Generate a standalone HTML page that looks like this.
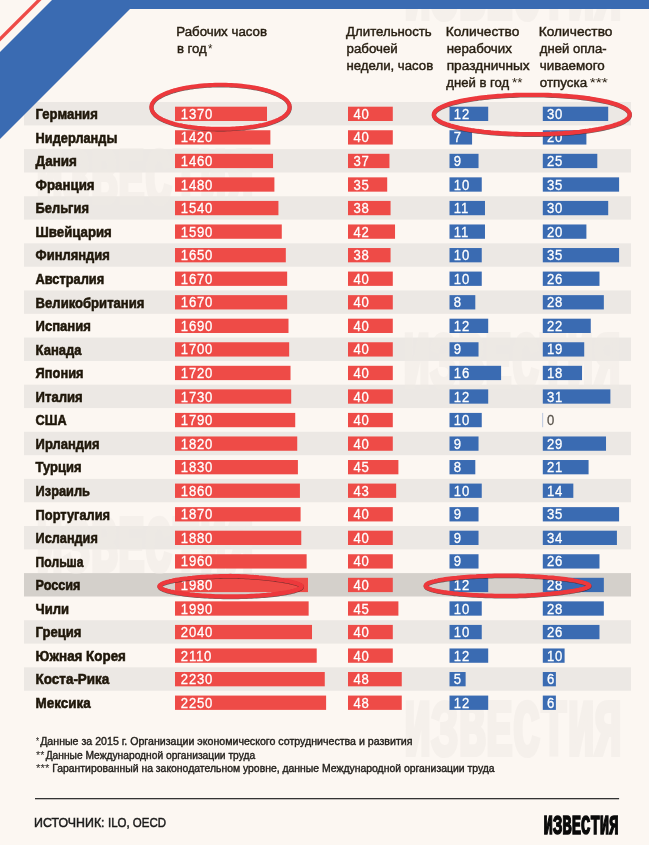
<!DOCTYPE html>
<html lang="ru">
<head>
<meta charset="utf-8">
<title>Рабочие часы в год</title>
<style>
html,body{margin:0;padding:0;background:#fcf7f2;}
body{width:649px;height:845px;overflow:hidden;}
svg{display:block;font-family:"Liberation Sans",sans-serif;}
</style>
</head>
<body>
<svg width="649" height="845" viewBox="0 0 649 845">
<rect width="649" height="845" fill="#fcf7f2"/>
<g id="stripes">
<rect x="24" y="102.00" width="607" height="23.4" fill="#ece8e4"/>
<rect x="24" y="149.11" width="607" height="23.4" fill="#ece8e4"/>
<rect x="24" y="196.22" width="607" height="23.4" fill="#ece8e4"/>
<rect x="24" y="243.33" width="607" height="23.4" fill="#ece8e4"/>
<rect x="24" y="290.44" width="607" height="23.4" fill="#ece8e4"/>
<rect x="24" y="337.55" width="607" height="23.4" fill="#ece8e4"/>
<rect x="24" y="384.66" width="607" height="23.4" fill="#ece8e4"/>
<rect x="24" y="431.77" width="607" height="23.4" fill="#ece8e4"/>
<rect x="24" y="478.88" width="607" height="23.4" fill="#ece8e4"/>
<rect x="24" y="525.99" width="607" height="23.4" fill="#ece8e4"/>
<rect x="24" y="573.10" width="607" height="23.4" fill="#d4d0cb"/>
<rect x="24" y="620.21" width="607" height="23.4" fill="#ece8e4"/>
<rect x="24" y="667.32" width="607" height="23.4" fill="#ece8e4"/>
</g>
<g id="watermarks" opacity="0.5">
<text x="404" y="18.6" font-family="Liberation Mono, monospace" font-size="80" font-weight="bold" fill="#efeae5" stroke="#efeae5" stroke-width="4.2" textLength="218" lengthAdjust="spacingAndGlyphs">ИЗВЕСТИЯ</text>
<text x="36" y="202.6" font-family="Liberation Mono, monospace" font-size="80" font-weight="bold" fill="#efeae5" stroke="#efeae5" stroke-width="4.2" textLength="218" lengthAdjust="spacingAndGlyphs">ИЗВЕСТИЯ</text>
<text x="403" y="386.6" font-family="Liberation Mono, monospace" font-size="80" font-weight="bold" fill="#efeae5" stroke="#efeae5" stroke-width="4.2" textLength="218" lengthAdjust="spacingAndGlyphs">ИЗВЕСТИЯ</text>
<text x="36" y="570.6" font-family="Liberation Mono, monospace" font-size="80" font-weight="bold" fill="#efeae5" stroke="#efeae5" stroke-width="4.2" textLength="218" lengthAdjust="spacingAndGlyphs">ИЗВЕСТИЯ</text>
<text x="404" y="754.6" font-family="Liberation Mono, monospace" font-size="80" font-weight="bold" fill="#efeae5" stroke="#efeae5" stroke-width="4.2" textLength="218" lengthAdjust="spacingAndGlyphs">ИЗВЕСТИЯ</text>
</g>
<polygon points="52,0 649,0 649,9 130,9 0,139 0,52" fill="#3a6bb2"/>
<polygon points="36.8,0 41.5,0 0,41.5 0,36.8" fill="#ee4b47"/>
<g id="bars">
<rect x="175" y="106.70" width="92.01" height="14.3" fill="#ee4b47"/>
<rect x="348.0" y="106.70" width="44.80" height="14.3" fill="#ee4b47"/>
<rect x="449.5" y="106.70" width="38.70" height="14.3" fill="#3a6bb2"/>
<rect x="542.8" y="106.70" width="65.40" height="14.3" fill="#3a6bb2"/>
<rect x="175" y="130.25" width="95.37" height="14.3" fill="#ee4b47"/>
<rect x="348.0" y="130.25" width="44.80" height="14.3" fill="#ee4b47"/>
<rect x="449.5" y="130.25" width="22.57" height="14.3" fill="#3a6bb2"/>
<rect x="542.8" y="130.25" width="43.60" height="14.3" fill="#3a6bb2"/>
<rect x="175" y="153.81" width="98.05" height="14.3" fill="#ee4b47"/>
<rect x="348.0" y="153.81" width="41.44" height="14.3" fill="#ee4b47"/>
<rect x="449.5" y="153.81" width="29.03" height="14.3" fill="#3a6bb2"/>
<rect x="542.8" y="153.81" width="54.50" height="14.3" fill="#3a6bb2"/>
<rect x="175" y="177.36" width="99.40" height="14.3" fill="#ee4b47"/>
<rect x="348.0" y="177.36" width="39.20" height="14.3" fill="#ee4b47"/>
<rect x="449.5" y="177.36" width="32.25" height="14.3" fill="#3a6bb2"/>
<rect x="542.8" y="177.36" width="76.30" height="14.3" fill="#3a6bb2"/>
<rect x="175" y="200.92" width="103.43" height="14.3" fill="#ee4b47"/>
<rect x="348.0" y="200.92" width="42.56" height="14.3" fill="#ee4b47"/>
<rect x="449.5" y="200.92" width="35.48" height="14.3" fill="#3a6bb2"/>
<rect x="542.8" y="200.92" width="65.40" height="14.3" fill="#3a6bb2"/>
<rect x="175" y="224.47" width="106.78" height="14.3" fill="#ee4b47"/>
<rect x="348.0" y="224.47" width="47.04" height="14.3" fill="#ee4b47"/>
<rect x="449.5" y="224.47" width="35.48" height="14.3" fill="#3a6bb2"/>
<rect x="542.8" y="224.47" width="43.60" height="14.3" fill="#3a6bb2"/>
<rect x="175" y="248.03" width="110.81" height="14.3" fill="#ee4b47"/>
<rect x="348.0" y="248.03" width="42.56" height="14.3" fill="#ee4b47"/>
<rect x="449.5" y="248.03" width="32.25" height="14.3" fill="#3a6bb2"/>
<rect x="542.8" y="248.03" width="76.30" height="14.3" fill="#3a6bb2"/>
<rect x="175" y="271.58" width="112.16" height="14.3" fill="#ee4b47"/>
<rect x="348.0" y="271.58" width="44.80" height="14.3" fill="#ee4b47"/>
<rect x="449.5" y="271.58" width="32.25" height="14.3" fill="#3a6bb2"/>
<rect x="542.8" y="271.58" width="56.68" height="14.3" fill="#3a6bb2"/>
<rect x="175" y="295.14" width="112.16" height="14.3" fill="#ee4b47"/>
<rect x="348.0" y="295.14" width="44.80" height="14.3" fill="#ee4b47"/>
<rect x="449.5" y="295.14" width="25.80" height="14.3" fill="#3a6bb2"/>
<rect x="542.8" y="295.14" width="61.04" height="14.3" fill="#3a6bb2"/>
<rect x="175" y="318.69" width="113.50" height="14.3" fill="#ee4b47"/>
<rect x="348.0" y="318.69" width="44.80" height="14.3" fill="#ee4b47"/>
<rect x="449.5" y="318.69" width="38.70" height="14.3" fill="#3a6bb2"/>
<rect x="542.8" y="318.69" width="47.96" height="14.3" fill="#3a6bb2"/>
<rect x="175" y="342.25" width="114.17" height="14.3" fill="#ee4b47"/>
<rect x="348.0" y="342.25" width="44.80" height="14.3" fill="#ee4b47"/>
<rect x="449.5" y="342.25" width="29.03" height="14.3" fill="#3a6bb2"/>
<rect x="542.8" y="342.25" width="41.42" height="14.3" fill="#3a6bb2"/>
<rect x="175" y="365.81" width="115.52" height="14.3" fill="#ee4b47"/>
<rect x="348.0" y="365.81" width="44.80" height="14.3" fill="#ee4b47"/>
<rect x="449.5" y="365.81" width="51.60" height="14.3" fill="#3a6bb2"/>
<rect x="542.8" y="365.81" width="39.24" height="14.3" fill="#3a6bb2"/>
<rect x="175" y="389.36" width="116.19" height="14.3" fill="#ee4b47"/>
<rect x="348.0" y="389.36" width="44.80" height="14.3" fill="#ee4b47"/>
<rect x="449.5" y="389.36" width="38.70" height="14.3" fill="#3a6bb2"/>
<rect x="542.8" y="389.36" width="67.58" height="14.3" fill="#3a6bb2"/>
<rect x="175" y="412.91" width="120.22" height="14.3" fill="#ee4b47"/>
<rect x="348.0" y="412.91" width="44.80" height="14.3" fill="#ee4b47"/>
<rect x="449.5" y="412.91" width="32.25" height="14.3" fill="#3a6bb2"/>
<rect x="542.4" y="412.91" width="0.7" height="14.3" fill="#9fb3d6"/>
<rect x="175" y="436.47" width="122.23" height="14.3" fill="#ee4b47"/>
<rect x="348.0" y="436.47" width="44.80" height="14.3" fill="#ee4b47"/>
<rect x="449.5" y="436.47" width="29.03" height="14.3" fill="#3a6bb2"/>
<rect x="542.8" y="436.47" width="63.22" height="14.3" fill="#3a6bb2"/>
<rect x="175" y="460.02" width="122.90" height="14.3" fill="#ee4b47"/>
<rect x="348.0" y="460.02" width="50.40" height="14.3" fill="#ee4b47"/>
<rect x="449.5" y="460.02" width="25.80" height="14.3" fill="#3a6bb2"/>
<rect x="542.8" y="460.02" width="45.78" height="14.3" fill="#3a6bb2"/>
<rect x="175" y="483.58" width="124.92" height="14.3" fill="#ee4b47"/>
<rect x="348.0" y="483.58" width="48.16" height="14.3" fill="#ee4b47"/>
<rect x="449.5" y="483.58" width="32.25" height="14.3" fill="#3a6bb2"/>
<rect x="542.8" y="483.58" width="30.52" height="14.3" fill="#3a6bb2"/>
<rect x="175" y="507.13" width="125.59" height="14.3" fill="#ee4b47"/>
<rect x="348.0" y="507.13" width="44.80" height="14.3" fill="#ee4b47"/>
<rect x="449.5" y="507.13" width="29.03" height="14.3" fill="#3a6bb2"/>
<rect x="542.8" y="507.13" width="76.30" height="14.3" fill="#3a6bb2"/>
<rect x="175" y="530.69" width="126.26" height="14.3" fill="#ee4b47"/>
<rect x="348.0" y="530.69" width="44.80" height="14.3" fill="#ee4b47"/>
<rect x="449.5" y="530.69" width="29.03" height="14.3" fill="#3a6bb2"/>
<rect x="542.8" y="530.69" width="74.12" height="14.3" fill="#3a6bb2"/>
<rect x="175" y="554.25" width="131.63" height="14.3" fill="#ee4b47"/>
<rect x="348.0" y="554.25" width="44.80" height="14.3" fill="#ee4b47"/>
<rect x="449.5" y="554.25" width="29.03" height="14.3" fill="#3a6bb2"/>
<rect x="542.8" y="554.25" width="56.68" height="14.3" fill="#3a6bb2"/>
<rect x="175" y="577.80" width="132.98" height="14.3" fill="#ee4b47"/>
<rect x="348.0" y="577.80" width="44.80" height="14.3" fill="#ee4b47"/>
<rect x="449.5" y="577.80" width="38.70" height="14.3" fill="#3a6bb2"/>
<rect x="542.8" y="577.80" width="61.04" height="14.3" fill="#3a6bb2"/>
<rect x="175" y="601.36" width="133.65" height="14.3" fill="#ee4b47"/>
<rect x="348.0" y="601.36" width="50.40" height="14.3" fill="#ee4b47"/>
<rect x="449.5" y="601.36" width="32.25" height="14.3" fill="#3a6bb2"/>
<rect x="542.8" y="601.36" width="61.04" height="14.3" fill="#3a6bb2"/>
<rect x="175" y="624.91" width="137.01" height="14.3" fill="#ee4b47"/>
<rect x="348.0" y="624.91" width="44.80" height="14.3" fill="#ee4b47"/>
<rect x="449.5" y="624.91" width="32.25" height="14.3" fill="#3a6bb2"/>
<rect x="542.8" y="624.91" width="56.68" height="14.3" fill="#3a6bb2"/>
<rect x="175" y="648.47" width="141.71" height="14.3" fill="#ee4b47"/>
<rect x="348.0" y="648.47" width="44.80" height="14.3" fill="#ee4b47"/>
<rect x="449.5" y="648.47" width="38.70" height="14.3" fill="#3a6bb2"/>
<rect x="542.8" y="648.47" width="21.80" height="14.3" fill="#3a6bb2"/>
<rect x="175" y="672.02" width="149.77" height="14.3" fill="#ee4b47"/>
<rect x="348.0" y="672.02" width="53.76" height="14.3" fill="#ee4b47"/>
<rect x="449.5" y="672.02" width="16.12" height="14.3" fill="#3a6bb2"/>
<rect x="542.8" y="672.02" width="13.08" height="14.3" fill="#3a6bb2"/>
<rect x="175" y="695.58" width="151.11" height="14.3" fill="#ee4b47"/>
<rect x="348.0" y="695.58" width="53.76" height="14.3" fill="#ee4b47"/>
<rect x="449.5" y="695.58" width="38.70" height="14.3" fill="#3a6bb2"/>
<rect x="542.8" y="695.58" width="13.08" height="14.3" fill="#3a6bb2"/>
</g>
<g id="labels">
<text x="176.23" y="35.60" font-size="13.7" fill="#261d10" textLength="90.84" lengthAdjust="spacingAndGlyphs" stroke="#261d10" stroke-width="0.45">Рабочих часов</text>
<text x="176.90" y="52.80" font-size="13.7" fill="#261d10" textLength="29.89" lengthAdjust="spacingAndGlyphs" stroke="#261d10" stroke-width="0.45">в год</text>
<text x="207.90" y="52.80" font-size="13.7" fill="#261d10" textLength="4.44" lengthAdjust="spacingAndGlyphs">*</text>
<text x="346.10" y="35.60" font-size="13.7" fill="#261d10" textLength="85.63" lengthAdjust="spacingAndGlyphs" stroke="#261d10" stroke-width="0.45">Длительность</text>
<text x="346.50" y="52.80" font-size="13.7" fill="#261d10" textLength="51.23" lengthAdjust="spacingAndGlyphs" stroke="#261d10" stroke-width="0.45">рабочей</text>
<text x="346.50" y="70.00" font-size="13.7" fill="#261d10" textLength="86.66" lengthAdjust="spacingAndGlyphs" stroke="#261d10" stroke-width="0.45">недели, часов</text>
<text x="445.70" y="35.60" font-size="13.7" fill="#261d10" textLength="73.61" lengthAdjust="spacingAndGlyphs" stroke="#261d10" stroke-width="0.45">Количество</text>
<text x="446.70" y="52.80" font-size="13.7" fill="#261d10" textLength="65.15" lengthAdjust="spacingAndGlyphs" stroke="#261d10" stroke-width="0.45">нерабочих</text>
<text x="446.70" y="70.00" font-size="13.7" fill="#261d10" textLength="83.04" lengthAdjust="spacingAndGlyphs" stroke="#261d10" stroke-width="0.45">праздничных</text>
<text x="446.30" y="87.30" font-size="13.7" fill="#261d10" textLength="62.99" lengthAdjust="spacingAndGlyphs" stroke="#261d10" stroke-width="0.45">дней в год</text>
<text x="512.10" y="87.30" font-size="13.7" fill="#261d10" textLength="10.44" lengthAdjust="spacingAndGlyphs">**</text>
<text x="538.80" y="35.60" font-size="13.7" fill="#261d10" textLength="73.61" lengthAdjust="spacingAndGlyphs" stroke="#261d10" stroke-width="0.45">Количество</text>
<text x="539.80" y="52.80" font-size="13.7" fill="#261d10" textLength="66.73" lengthAdjust="spacingAndGlyphs" stroke="#261d10" stroke-width="0.45">дней опла-</text>
<text x="539.80" y="70.00" font-size="13.7" fill="#261d10" textLength="64.92" lengthAdjust="spacingAndGlyphs" stroke="#261d10" stroke-width="0.45">чиваемого</text>
<text x="539.80" y="87.30" font-size="13.7" fill="#261d10" textLength="47.32" lengthAdjust="spacingAndGlyphs" stroke="#261d10" stroke-width="0.45">отпуска</text>
<text x="589.70" y="87.30" font-size="13.7" fill="#261d10" textLength="18.14" lengthAdjust="spacingAndGlyphs">***</text>
<text x="36.10" y="745.20" font-size="10.3" fill="#1f1c18" textLength="3.11" lengthAdjust="spacingAndGlyphs">*</text>
<text x="40.20" y="745.20" font-size="10.3" fill="#1f1c18" textLength="372.29" lengthAdjust="spacingAndGlyphs" stroke="#1f1c18" stroke-width="0.38">Данные за 2015 г. Организации экономического сотрудничества и развития</text>
<text x="36.10" y="758.70" font-size="10.3" fill="#1f1c18" textLength="8.31" lengthAdjust="spacingAndGlyphs">**</text>
<text x="45.70" y="758.70" font-size="10.3" fill="#1f1c18" textLength="209.43" lengthAdjust="spacingAndGlyphs" stroke="#1f1c18" stroke-width="0.38">Данные Международной организации труда</text>
<text x="36.10" y="772.20" font-size="10.3" fill="#1f1c18" textLength="13.31" lengthAdjust="spacingAndGlyphs">***</text>
<text x="52.20" y="772.20" font-size="10.3" fill="#1f1c18" textLength="442.42" lengthAdjust="spacingAndGlyphs" stroke="#1f1c18" stroke-width="0.38">Гарантированный на законодательном уровне, данные Международной организации труда</text>
<text x="34.07" y="826.50" font-size="13.3" fill="#1a1a1a" textLength="70.48" lengthAdjust="spacingAndGlyphs" stroke="#1a1a1a" stroke-width="0.5">ИСТОЧНИК:</text>
<text x="107.94" y="826.50" font-size="13.3" fill="#1a1a1a" textLength="58.08" lengthAdjust="spacingAndGlyphs" stroke="#1a1a1a" stroke-width="0.5">ILO, OECD</text>
<text x="35.60" y="119.10" font-size="14.3" fill="#1f170a" font-weight="bold" textLength="62.21" lengthAdjust="spacingAndGlyphs" stroke="#1f170a" stroke-width="0.55">Германия</text>
<text x="35.60" y="142.66" font-size="14.3" fill="#1f170a" font-weight="bold" textLength="81.79" lengthAdjust="spacingAndGlyphs" stroke="#1f170a" stroke-width="0.55">Нидерланды</text>
<text x="35.60" y="166.21" font-size="14.3" fill="#1f170a" font-weight="bold" textLength="41.32" lengthAdjust="spacingAndGlyphs" stroke="#1f170a" stroke-width="0.55">Дания</text>
<text x="35.60" y="189.76" font-size="14.3" fill="#1f170a" font-weight="bold" textLength="59.02" lengthAdjust="spacingAndGlyphs" stroke="#1f170a" stroke-width="0.55">Франция</text>
<text x="35.60" y="213.32" font-size="14.3" fill="#1f170a" font-weight="bold" textLength="53.31" lengthAdjust="spacingAndGlyphs" stroke="#1f170a" stroke-width="0.55">Бельгия</text>
<text x="35.60" y="236.88" font-size="14.3" fill="#1f170a" font-weight="bold" textLength="76.22" lengthAdjust="spacingAndGlyphs" stroke="#1f170a" stroke-width="0.55">Швейцария</text>
<text x="35.60" y="260.43" font-size="14.3" fill="#1f170a" font-weight="bold" textLength="74.31" lengthAdjust="spacingAndGlyphs" stroke="#1f170a" stroke-width="0.55">Финляндия</text>
<text x="35.60" y="283.99" font-size="14.3" fill="#1f170a" font-weight="bold" textLength="68.51" lengthAdjust="spacingAndGlyphs" stroke="#1f170a" stroke-width="0.55">Австралия</text>
<text x="35.60" y="307.54" font-size="14.3" fill="#1f170a" font-weight="bold" textLength="108.81" lengthAdjust="spacingAndGlyphs" stroke="#1f170a" stroke-width="0.55">Великобритания</text>
<text x="35.60" y="331.10" font-size="14.3" fill="#1f170a" font-weight="bold" textLength="55.31" lengthAdjust="spacingAndGlyphs" stroke="#1f170a" stroke-width="0.55">Испания</text>
<text x="35.60" y="354.65" font-size="14.3" fill="#1f170a" font-weight="bold" textLength="45.85" lengthAdjust="spacingAndGlyphs" stroke="#1f170a" stroke-width="0.55">Канада</text>
<text x="35.60" y="378.21" font-size="14.3" fill="#1f170a" font-weight="bold" textLength="47.91" lengthAdjust="spacingAndGlyphs" stroke="#1f170a" stroke-width="0.55">Япония</text>
<text x="35.60" y="401.76" font-size="14.3" fill="#1f170a" font-weight="bold" textLength="47.11" lengthAdjust="spacingAndGlyphs" stroke="#1f170a" stroke-width="0.55">Италия</text>
<text x="35.60" y="425.31" font-size="14.3" fill="#1f170a" font-weight="bold" textLength="31.09" lengthAdjust="spacingAndGlyphs" stroke="#1f170a" stroke-width="0.55">США</text>
<text x="35.60" y="448.87" font-size="14.3" fill="#1f170a" font-weight="bold" textLength="63.91" lengthAdjust="spacingAndGlyphs" stroke="#1f170a" stroke-width="0.55">Ирландия</text>
<text x="35.60" y="472.43" font-size="14.3" fill="#1f170a" font-weight="bold" textLength="45.91" lengthAdjust="spacingAndGlyphs" stroke="#1f170a" stroke-width="0.55">Турция</text>
<text x="35.60" y="495.98" font-size="14.3" fill="#1f170a" font-weight="bold" textLength="54.31" lengthAdjust="spacingAndGlyphs" stroke="#1f170a" stroke-width="0.55">Израиль</text>
<text x="35.60" y="519.53" font-size="14.3" fill="#1f170a" font-weight="bold" textLength="74.51" lengthAdjust="spacingAndGlyphs" stroke="#1f170a" stroke-width="0.55">Португалия</text>
<text x="35.60" y="543.09" font-size="14.3" fill="#1f170a" font-weight="bold" textLength="62.20" lengthAdjust="spacingAndGlyphs" stroke="#1f170a" stroke-width="0.55">Исландия</text>
<text x="35.60" y="566.65" font-size="14.3" fill="#1f170a" font-weight="bold" textLength="47.91" lengthAdjust="spacingAndGlyphs" stroke="#1f170a" stroke-width="0.55">Польша</text>
<text x="35.60" y="590.20" font-size="14.3" fill="#1f170a" font-weight="bold" textLength="44.90" lengthAdjust="spacingAndGlyphs" stroke="#1f170a" stroke-width="0.55">Россия</text>
<text x="35.60" y="613.75" font-size="14.3" fill="#1f170a" font-weight="bold" textLength="33.52" lengthAdjust="spacingAndGlyphs" stroke="#1f170a" stroke-width="0.55">Чили</text>
<text x="35.60" y="637.31" font-size="14.3" fill="#1f170a" font-weight="bold" textLength="45.91" lengthAdjust="spacingAndGlyphs" stroke="#1f170a" stroke-width="0.55">Греция</text>
<text x="35.60" y="660.87" font-size="14.3" fill="#1f170a" font-weight="bold" textLength="90.32" lengthAdjust="spacingAndGlyphs" stroke="#1f170a" stroke-width="0.55">Южная Корея</text>
<text x="35.60" y="684.42" font-size="14.3" fill="#1f170a" font-weight="bold" textLength="73.71" lengthAdjust="spacingAndGlyphs" stroke="#1f170a" stroke-width="0.55">Коста-Рика</text>
<text x="35.60" y="707.98" font-size="14.3" fill="#1f170a" font-weight="bold" textLength="55.21" lengthAdjust="spacingAndGlyphs" stroke="#1f170a" stroke-width="0.55">Мексика</text>
<text transform="translate(180.8,118.90) scale(0.875,1)" letter-spacing="0.91" font-size="15.0" fill="#fff" stroke="#fff" stroke-width="0.3">1370</text>
<text transform="translate(353.4,118.90) scale(0.875,1)" letter-spacing="0.91" font-size="15.0" fill="#fff" stroke="#fff" stroke-width="0.3">40</text>
<text transform="translate(453.8,118.90) scale(0.875,1)" letter-spacing="0.91" font-size="15.0" fill="#fff" stroke="#fff" stroke-width="0.3">12</text>
<text transform="translate(546.9,118.90) scale(0.875,1)" letter-spacing="0.91" font-size="15.0" fill="#fff" stroke="#fff" stroke-width="0.3">30</text>
<text transform="translate(180.8,142.46) scale(0.875,1)" letter-spacing="0.91" font-size="15.0" fill="#fff" stroke="#fff" stroke-width="0.3">1420</text>
<text transform="translate(353.4,142.46) scale(0.875,1)" letter-spacing="0.91" font-size="15.0" fill="#fff" stroke="#fff" stroke-width="0.3">40</text>
<text transform="translate(453.8,142.46) scale(0.875,1)" letter-spacing="0.91" font-size="15.0" fill="#fff" stroke="#fff" stroke-width="0.3">7</text>
<text transform="translate(546.9,142.46) scale(0.875,1)" letter-spacing="0.91" font-size="15.0" fill="#fff" stroke="#fff" stroke-width="0.3">20</text>
<text transform="translate(180.8,166.01) scale(0.875,1)" letter-spacing="0.91" font-size="15.0" fill="#fff" stroke="#fff" stroke-width="0.3">1460</text>
<text transform="translate(353.4,166.01) scale(0.875,1)" letter-spacing="0.91" font-size="15.0" fill="#fff" stroke="#fff" stroke-width="0.3">37</text>
<text transform="translate(453.8,166.01) scale(0.875,1)" letter-spacing="0.91" font-size="15.0" fill="#fff" stroke="#fff" stroke-width="0.3">9</text>
<text transform="translate(546.9,166.01) scale(0.875,1)" letter-spacing="0.91" font-size="15.0" fill="#fff" stroke="#fff" stroke-width="0.3">25</text>
<text transform="translate(180.8,189.56) scale(0.875,1)" letter-spacing="0.91" font-size="15.0" fill="#fff" stroke="#fff" stroke-width="0.3">1480</text>
<text transform="translate(353.4,189.56) scale(0.875,1)" letter-spacing="0.91" font-size="15.0" fill="#fff" stroke="#fff" stroke-width="0.3">35</text>
<text transform="translate(453.8,189.56) scale(0.875,1)" letter-spacing="0.91" font-size="15.0" fill="#fff" stroke="#fff" stroke-width="0.3">10</text>
<text transform="translate(546.9,189.56) scale(0.875,1)" letter-spacing="0.91" font-size="15.0" fill="#fff" stroke="#fff" stroke-width="0.3">35</text>
<text transform="translate(180.8,213.12) scale(0.875,1)" letter-spacing="0.91" font-size="15.0" fill="#fff" stroke="#fff" stroke-width="0.3">1540</text>
<text transform="translate(353.4,213.12) scale(0.875,1)" letter-spacing="0.91" font-size="15.0" fill="#fff" stroke="#fff" stroke-width="0.3">38</text>
<text transform="translate(453.8,213.12) scale(0.875,1)" letter-spacing="0.91" font-size="15.0" fill="#fff" stroke="#fff" stroke-width="0.3">11</text>
<text transform="translate(546.9,213.12) scale(0.875,1)" letter-spacing="0.91" font-size="15.0" fill="#fff" stroke="#fff" stroke-width="0.3">30</text>
<text transform="translate(180.8,236.68) scale(0.875,1)" letter-spacing="0.91" font-size="15.0" fill="#fff" stroke="#fff" stroke-width="0.3">1590</text>
<text transform="translate(353.4,236.68) scale(0.875,1)" letter-spacing="0.91" font-size="15.0" fill="#fff" stroke="#fff" stroke-width="0.3">42</text>
<text transform="translate(453.8,236.68) scale(0.875,1)" letter-spacing="0.91" font-size="15.0" fill="#fff" stroke="#fff" stroke-width="0.3">11</text>
<text transform="translate(546.9,236.68) scale(0.875,1)" letter-spacing="0.91" font-size="15.0" fill="#fff" stroke="#fff" stroke-width="0.3">20</text>
<text transform="translate(180.8,260.23) scale(0.875,1)" letter-spacing="0.91" font-size="15.0" fill="#fff" stroke="#fff" stroke-width="0.3">1650</text>
<text transform="translate(353.4,260.23) scale(0.875,1)" letter-spacing="0.91" font-size="15.0" fill="#fff" stroke="#fff" stroke-width="0.3">38</text>
<text transform="translate(453.8,260.23) scale(0.875,1)" letter-spacing="0.91" font-size="15.0" fill="#fff" stroke="#fff" stroke-width="0.3">10</text>
<text transform="translate(546.9,260.23) scale(0.875,1)" letter-spacing="0.91" font-size="15.0" fill="#fff" stroke="#fff" stroke-width="0.3">35</text>
<text transform="translate(180.8,283.78) scale(0.875,1)" letter-spacing="0.91" font-size="15.0" fill="#fff" stroke="#fff" stroke-width="0.3">1670</text>
<text transform="translate(353.4,283.78) scale(0.875,1)" letter-spacing="0.91" font-size="15.0" fill="#fff" stroke="#fff" stroke-width="0.3">40</text>
<text transform="translate(453.8,283.78) scale(0.875,1)" letter-spacing="0.91" font-size="15.0" fill="#fff" stroke="#fff" stroke-width="0.3">10</text>
<text transform="translate(546.9,283.78) scale(0.875,1)" letter-spacing="0.91" font-size="15.0" fill="#fff" stroke="#fff" stroke-width="0.3">26</text>
<text transform="translate(180.8,307.34) scale(0.875,1)" letter-spacing="0.91" font-size="15.0" fill="#fff" stroke="#fff" stroke-width="0.3">1670</text>
<text transform="translate(353.4,307.34) scale(0.875,1)" letter-spacing="0.91" font-size="15.0" fill="#fff" stroke="#fff" stroke-width="0.3">40</text>
<text transform="translate(453.8,307.34) scale(0.875,1)" letter-spacing="0.91" font-size="15.0" fill="#fff" stroke="#fff" stroke-width="0.3">8</text>
<text transform="translate(546.9,307.34) scale(0.875,1)" letter-spacing="0.91" font-size="15.0" fill="#fff" stroke="#fff" stroke-width="0.3">28</text>
<text transform="translate(180.8,330.89) scale(0.875,1)" letter-spacing="0.91" font-size="15.0" fill="#fff" stroke="#fff" stroke-width="0.3">1690</text>
<text transform="translate(353.4,330.89) scale(0.875,1)" letter-spacing="0.91" font-size="15.0" fill="#fff" stroke="#fff" stroke-width="0.3">40</text>
<text transform="translate(453.8,330.89) scale(0.875,1)" letter-spacing="0.91" font-size="15.0" fill="#fff" stroke="#fff" stroke-width="0.3">12</text>
<text transform="translate(546.9,330.89) scale(0.875,1)" letter-spacing="0.91" font-size="15.0" fill="#fff" stroke="#fff" stroke-width="0.3">22</text>
<text transform="translate(180.8,354.45) scale(0.875,1)" letter-spacing="0.91" font-size="15.0" fill="#fff" stroke="#fff" stroke-width="0.3">1700</text>
<text transform="translate(353.4,354.45) scale(0.875,1)" letter-spacing="0.91" font-size="15.0" fill="#fff" stroke="#fff" stroke-width="0.3">40</text>
<text transform="translate(453.8,354.45) scale(0.875,1)" letter-spacing="0.91" font-size="15.0" fill="#fff" stroke="#fff" stroke-width="0.3">9</text>
<text transform="translate(546.9,354.45) scale(0.875,1)" letter-spacing="0.91" font-size="15.0" fill="#fff" stroke="#fff" stroke-width="0.3">19</text>
<text transform="translate(180.8,378.00) scale(0.875,1)" letter-spacing="0.91" font-size="15.0" fill="#fff" stroke="#fff" stroke-width="0.3">1720</text>
<text transform="translate(353.4,378.00) scale(0.875,1)" letter-spacing="0.91" font-size="15.0" fill="#fff" stroke="#fff" stroke-width="0.3">40</text>
<text transform="translate(453.8,378.00) scale(0.875,1)" letter-spacing="0.91" font-size="15.0" fill="#fff" stroke="#fff" stroke-width="0.3">16</text>
<text transform="translate(546.9,378.00) scale(0.875,1)" letter-spacing="0.91" font-size="15.0" fill="#fff" stroke="#fff" stroke-width="0.3">18</text>
<text transform="translate(180.8,401.56) scale(0.875,1)" letter-spacing="0.91" font-size="15.0" fill="#fff" stroke="#fff" stroke-width="0.3">1730</text>
<text transform="translate(353.4,401.56) scale(0.875,1)" letter-spacing="0.91" font-size="15.0" fill="#fff" stroke="#fff" stroke-width="0.3">40</text>
<text transform="translate(453.8,401.56) scale(0.875,1)" letter-spacing="0.91" font-size="15.0" fill="#fff" stroke="#fff" stroke-width="0.3">12</text>
<text transform="translate(546.9,401.56) scale(0.875,1)" letter-spacing="0.91" font-size="15.0" fill="#fff" stroke="#fff" stroke-width="0.3">31</text>
<text transform="translate(180.8,425.11) scale(0.875,1)" letter-spacing="0.91" font-size="15.0" fill="#fff" stroke="#fff" stroke-width="0.3">1790</text>
<text transform="translate(353.4,425.11) scale(0.875,1)" letter-spacing="0.91" font-size="15.0" fill="#fff" stroke="#fff" stroke-width="0.3">40</text>
<text transform="translate(453.8,425.11) scale(0.875,1)" letter-spacing="0.91" font-size="15.0" fill="#fff" stroke="#fff" stroke-width="0.3">10</text>
<text transform="translate(546.9,425.11) scale(0.875,1)" letter-spacing="0.91" font-size="15.0" fill="#5a554d" stroke="#5a554d" stroke-width="0.3">0</text>
<text transform="translate(180.8,448.67) scale(0.875,1)" letter-spacing="0.91" font-size="15.0" fill="#fff" stroke="#fff" stroke-width="0.3">1820</text>
<text transform="translate(353.4,448.67) scale(0.875,1)" letter-spacing="0.91" font-size="15.0" fill="#fff" stroke="#fff" stroke-width="0.3">40</text>
<text transform="translate(453.8,448.67) scale(0.875,1)" letter-spacing="0.91" font-size="15.0" fill="#fff" stroke="#fff" stroke-width="0.3">9</text>
<text transform="translate(546.9,448.67) scale(0.875,1)" letter-spacing="0.91" font-size="15.0" fill="#fff" stroke="#fff" stroke-width="0.3">29</text>
<text transform="translate(180.8,472.22) scale(0.875,1)" letter-spacing="0.91" font-size="15.0" fill="#fff" stroke="#fff" stroke-width="0.3">1830</text>
<text transform="translate(353.4,472.22) scale(0.875,1)" letter-spacing="0.91" font-size="15.0" fill="#fff" stroke="#fff" stroke-width="0.3">45</text>
<text transform="translate(453.8,472.22) scale(0.875,1)" letter-spacing="0.91" font-size="15.0" fill="#fff" stroke="#fff" stroke-width="0.3">8</text>
<text transform="translate(546.9,472.22) scale(0.875,1)" letter-spacing="0.91" font-size="15.0" fill="#fff" stroke="#fff" stroke-width="0.3">21</text>
<text transform="translate(180.8,495.78) scale(0.875,1)" letter-spacing="0.91" font-size="15.0" fill="#fff" stroke="#fff" stroke-width="0.3">1860</text>
<text transform="translate(353.4,495.78) scale(0.875,1)" letter-spacing="0.91" font-size="15.0" fill="#fff" stroke="#fff" stroke-width="0.3">43</text>
<text transform="translate(453.8,495.78) scale(0.875,1)" letter-spacing="0.91" font-size="15.0" fill="#fff" stroke="#fff" stroke-width="0.3">10</text>
<text transform="translate(546.9,495.78) scale(0.875,1)" letter-spacing="0.91" font-size="15.0" fill="#fff" stroke="#fff" stroke-width="0.3">14</text>
<text transform="translate(180.8,519.34) scale(0.875,1)" letter-spacing="0.91" font-size="15.0" fill="#fff" stroke="#fff" stroke-width="0.3">1870</text>
<text transform="translate(353.4,519.34) scale(0.875,1)" letter-spacing="0.91" font-size="15.0" fill="#fff" stroke="#fff" stroke-width="0.3">40</text>
<text transform="translate(453.8,519.34) scale(0.875,1)" letter-spacing="0.91" font-size="15.0" fill="#fff" stroke="#fff" stroke-width="0.3">9</text>
<text transform="translate(546.9,519.34) scale(0.875,1)" letter-spacing="0.91" font-size="15.0" fill="#fff" stroke="#fff" stroke-width="0.3">35</text>
<text transform="translate(180.8,542.89) scale(0.875,1)" letter-spacing="0.91" font-size="15.0" fill="#fff" stroke="#fff" stroke-width="0.3">1880</text>
<text transform="translate(353.4,542.89) scale(0.875,1)" letter-spacing="0.91" font-size="15.0" fill="#fff" stroke="#fff" stroke-width="0.3">40</text>
<text transform="translate(453.8,542.89) scale(0.875,1)" letter-spacing="0.91" font-size="15.0" fill="#fff" stroke="#fff" stroke-width="0.3">9</text>
<text transform="translate(546.9,542.89) scale(0.875,1)" letter-spacing="0.91" font-size="15.0" fill="#fff" stroke="#fff" stroke-width="0.3">34</text>
<text transform="translate(180.8,566.45) scale(0.875,1)" letter-spacing="0.91" font-size="15.0" fill="#fff" stroke="#fff" stroke-width="0.3">1960</text>
<text transform="translate(353.4,566.45) scale(0.875,1)" letter-spacing="0.91" font-size="15.0" fill="#fff" stroke="#fff" stroke-width="0.3">40</text>
<text transform="translate(453.8,566.45) scale(0.875,1)" letter-spacing="0.91" font-size="15.0" fill="#fff" stroke="#fff" stroke-width="0.3">9</text>
<text transform="translate(546.9,566.45) scale(0.875,1)" letter-spacing="0.91" font-size="15.0" fill="#fff" stroke="#fff" stroke-width="0.3">26</text>
<text transform="translate(180.8,590.00) scale(0.875,1)" letter-spacing="0.91" font-size="15.0" fill="#fff" stroke="#fff" stroke-width="0.3">1980</text>
<text transform="translate(353.4,590.00) scale(0.875,1)" letter-spacing="0.91" font-size="15.0" fill="#fff" stroke="#fff" stroke-width="0.3">40</text>
<text transform="translate(453.8,590.00) scale(0.875,1)" letter-spacing="0.91" font-size="15.0" fill="#fff" stroke="#fff" stroke-width="0.3">12</text>
<text transform="translate(546.9,590.00) scale(0.875,1)" letter-spacing="0.91" font-size="15.0" fill="#fff" stroke="#fff" stroke-width="0.3">28</text>
<text transform="translate(180.8,613.55) scale(0.875,1)" letter-spacing="0.91" font-size="15.0" fill="#fff" stroke="#fff" stroke-width="0.3">1990</text>
<text transform="translate(353.4,613.55) scale(0.875,1)" letter-spacing="0.91" font-size="15.0" fill="#fff" stroke="#fff" stroke-width="0.3">45</text>
<text transform="translate(453.8,613.55) scale(0.875,1)" letter-spacing="0.91" font-size="15.0" fill="#fff" stroke="#fff" stroke-width="0.3">10</text>
<text transform="translate(546.9,613.55) scale(0.875,1)" letter-spacing="0.91" font-size="15.0" fill="#fff" stroke="#fff" stroke-width="0.3">28</text>
<text transform="translate(180.8,637.11) scale(0.875,1)" letter-spacing="0.91" font-size="15.0" fill="#fff" stroke="#fff" stroke-width="0.3">2040</text>
<text transform="translate(353.4,637.11) scale(0.875,1)" letter-spacing="0.91" font-size="15.0" fill="#fff" stroke="#fff" stroke-width="0.3">40</text>
<text transform="translate(453.8,637.11) scale(0.875,1)" letter-spacing="0.91" font-size="15.0" fill="#fff" stroke="#fff" stroke-width="0.3">10</text>
<text transform="translate(546.9,637.11) scale(0.875,1)" letter-spacing="0.91" font-size="15.0" fill="#fff" stroke="#fff" stroke-width="0.3">26</text>
<text transform="translate(180.8,660.66) scale(0.875,1)" letter-spacing="0.91" font-size="15.0" fill="#fff" stroke="#fff" stroke-width="0.3">2110</text>
<text transform="translate(353.4,660.66) scale(0.875,1)" letter-spacing="0.91" font-size="15.0" fill="#fff" stroke="#fff" stroke-width="0.3">40</text>
<text transform="translate(453.8,660.66) scale(0.875,1)" letter-spacing="0.91" font-size="15.0" fill="#fff" stroke="#fff" stroke-width="0.3">12</text>
<text transform="translate(546.9,660.66) scale(0.875,1)" letter-spacing="0.91" font-size="15.0" fill="#fff" stroke="#fff" stroke-width="0.3">10</text>
<text transform="translate(180.8,684.22) scale(0.875,1)" letter-spacing="0.91" font-size="15.0" fill="#fff" stroke="#fff" stroke-width="0.3">2230</text>
<text transform="translate(353.4,684.22) scale(0.875,1)" letter-spacing="0.91" font-size="15.0" fill="#fff" stroke="#fff" stroke-width="0.3">48</text>
<text transform="translate(453.8,684.22) scale(0.875,1)" letter-spacing="0.91" font-size="15.0" fill="#fff" stroke="#fff" stroke-width="0.3">5</text>
<text transform="translate(546.9,684.22) scale(0.875,1)" letter-spacing="0.91" font-size="15.0" fill="#fff" stroke="#fff" stroke-width="0.3">6</text>
<text transform="translate(180.8,707.77) scale(0.875,1)" letter-spacing="0.91" font-size="15.0" fill="#fff" stroke="#fff" stroke-width="0.3">2250</text>
<text transform="translate(353.4,707.77) scale(0.875,1)" letter-spacing="0.91" font-size="15.0" fill="#fff" stroke="#fff" stroke-width="0.3">48</text>
<text transform="translate(453.8,707.77) scale(0.875,1)" letter-spacing="0.91" font-size="15.0" fill="#fff" stroke="#fff" stroke-width="0.3">12</text>
<text transform="translate(546.9,707.77) scale(0.875,1)" letter-spacing="0.91" font-size="15.0" fill="#fff" stroke="#fff" stroke-width="0.3">6</text>
</g>
<g id="marks-shadow" fill="none" stroke="#3a2222" stroke-opacity="0.7" stroke-linejoin="round" transform="translate(0.15,0.55)">
<path d="M151.4,106.8 151.5,105.9 151.7,105.1 151.9,104.2 152.3,103.4 152.8,102.5 153.4,101.7 154.0,100.8 154.8,100.0 155.7,99.2 156.7,98.4 157.8,97.6 159.0,96.8 160.3,96.1 161.6,95.3 163.1,94.6 164.6,93.9 166.3,93.2 168.0,92.5 169.8,91.9 171.7,91.2 173.6,90.6 175.7,90.1 177.8,89.5 179.9,89.0 182.1,88.5 184.4,88.0 186.8,87.6 189.2,87.2 191.6,86.8 194.1,86.5 196.6,86.2 199.2,85.9 201.8,85.6 204.4,85.4 207.0,85.2 209.7,85.1 212.4,85.0 215.1,84.9 217.8,84.8 220.5,84.8 223.2,84.8 225.9,84.9 228.6,85.0 231.3,85.1 234.0,85.2 236.6,85.4 239.2,85.6 241.8,85.9 244.4,86.2 246.9,86.5 249.4,86.8 251.8,87.2 254.2,87.6 256.6,88.0 258.9,88.5 261.1,89.0 263.2,89.5 265.3,90.1 267.4,90.6 269.3,91.2 271.2,91.9 273.0,92.5 274.7,93.2 276.4,93.9 277.9,94.6 279.4,95.3 280.7,96.1 282.0,96.8 283.2,97.6 284.3,98.4 285.3,99.2 286.2,100.0 287.0,100.8 287.6,101.7 288.2,102.5 288.7,103.4 289.1,104.2 289.3,105.1 289.5,105.9 289.6,106.8 289.5,107.9 289.4,108.9 289.1,109.8 288.8,110.7 288.3,111.6 287.8,112.5 287.1,113.3 286.4,114.2 285.6,115.0 284.6,115.8 283.6,116.6 282.5,117.4 281.3,118.1 280.0,118.8 278.7,119.5 277.2,120.2 275.6,120.9 274.0,121.5 272.3,122.1 270.5,122.7 268.7,123.3 266.7,123.9 264.7,124.4 262.6,124.9 260.5,125.3 258.3,125.8 256.0,126.2 253.6,126.6 251.2,126.9 248.8,127.2 246.2,127.5 243.7,127.8 241.0,128.0 238.3,128.2 235.6,128.4 232.8,128.5 229.9,128.7 227.0,128.7 223.9,128.8 220.5,128.8 217.1,128.8 214.0,128.7 211.1,128.7 208.2,128.5 205.4,128.4 202.7,128.2 200.0,128.0 197.3,127.8 194.8,127.5 192.2,127.2 189.8,126.9 187.4,126.6 185.0,126.2 182.7,125.8 180.5,125.3 178.4,124.9 176.3,124.4 174.3,123.9 172.3,123.3 170.5,122.7 168.7,122.1 167.0,121.5 165.4,120.9 163.8,120.2 162.3,119.5 161.0,118.8 159.7,118.1 158.5,117.4 157.4,116.6 156.4,115.8 155.4,115.0 154.6,114.2 153.9,113.3 153.2,112.5 152.7,111.6 152.2,110.7 151.9,109.8 151.6,108.9 151.5,107.9Z" stroke-width="4.1"/>
<path d="M433.9,114.7 433.9,113.9 434.2,113.1 434.5,112.4 435.1,111.6 435.7,110.8 436.6,110.1 437.5,109.3 438.6,108.6 439.9,107.8 441.3,107.1 442.8,106.4 444.5,105.7 446.3,105.0 448.3,104.3 450.3,103.6 452.5,103.0 454.9,102.4 457.3,101.8 459.9,101.2 462.5,100.6 465.3,100.1 468.2,99.6 471.1,99.1 474.2,98.6 477.4,98.2 480.6,97.7 483.9,97.3 487.3,97.0 490.8,96.6 494.3,96.3 497.9,96.0 501.5,95.8 505.2,95.5 508.9,95.3 512.7,95.2 516.4,95.0 520.2,94.9 524.1,94.9 527.9,94.8 531.8,94.8 535.9,94.8 539.9,94.9 543.9,94.9 547.8,95.0 551.6,95.2 555.4,95.3 559.2,95.5 562.9,95.8 566.5,96.0 570.1,96.3 573.6,96.6 577.1,96.9 580.4,97.3 583.7,97.7 586.9,98.1 590.0,98.5 593.1,99.0 596.0,99.5 598.8,100.0 601.6,100.5 604.2,101.1 606.7,101.6 609.1,102.2 611.4,102.9 613.5,103.5 615.5,104.1 617.5,104.8 619.2,105.5 620.9,106.2 622.4,106.9 623.7,107.6 625.0,108.4 626.1,109.1 627.0,109.9 627.8,110.7 628.5,111.4 629.0,112.2 629.4,113.0 629.6,113.9 629.6,114.7 629.6,115.5 629.3,116.2 629.0,117.0 628.4,117.8 627.8,118.5 626.9,119.3 626.0,120.0 624.9,120.7 623.6,121.5 622.2,122.2 620.7,122.9 619.0,123.6 617.2,124.3 615.2,124.9 613.2,125.6 611.0,126.2 608.6,126.8 606.2,127.4 603.6,128.0 601.0,128.5 598.2,129.1 595.3,129.6 592.4,130.1 589.3,130.5 586.1,131.0 582.9,131.4 579.6,131.8 576.2,132.1 572.7,132.5 569.2,132.8 565.6,133.0 562.0,133.3 558.3,133.5 554.6,133.7 550.8,133.9 547.1,134.0 543.3,134.1 539.4,134.2 535.6,134.2 531.8,134.2 527.9,134.2 524.1,134.2 520.2,134.1 516.4,134.0 512.7,133.9 508.9,133.7 505.2,133.5 501.5,133.3 497.9,133.0 494.3,132.8 490.8,132.5 487.3,132.1 483.9,131.8 480.6,131.4 477.4,131.0 474.2,130.5 471.1,130.1 468.2,129.6 465.3,129.1 462.5,128.5 459.9,128.0 457.3,127.4 454.9,126.8 452.5,126.2 450.3,125.6 448.3,124.9 446.3,124.3 444.5,123.6 442.8,122.9 441.3,122.2 439.9,121.5 438.6,120.7 437.5,120.0 436.6,119.3 435.7,118.5 435.1,117.8 434.5,117.0 434.2,116.2 433.9,115.5Z" stroke-width="4.3"/>
<path d="M159.4,586.3 159.5,586.0 159.7,585.6 160.0,585.2 160.4,584.8 160.9,584.5 161.5,584.1 162.3,583.7 163.1,583.3 164.1,582.9 165.1,582.6 166.3,582.2 167.6,581.8 169.0,581.5 170.4,581.1 172.0,580.8 173.7,580.4 175.4,580.1 177.3,579.8 179.2,579.5 181.2,579.2 183.3,578.9 185.4,578.6 187.6,578.4 189.9,578.1 192.3,577.9 194.7,577.6 197.1,577.4 199.6,577.2 202.1,577.0 204.7,576.9 207.3,576.7 209.9,576.6 212.6,576.5 215.2,576.3 217.9,576.3 220.5,576.2 223.1,576.1 225.7,576.1 228.2,576.1 230.6,576.0 232.2,576.1 234.2,576.1 236.3,576.1 238.6,576.2 241.0,576.3 243.4,576.4 245.9,576.5 248.5,576.6 251.0,576.8 253.6,577.0 256.1,577.1 258.7,577.4 261.2,577.6 263.8,577.8 266.2,578.1 268.7,578.3 271.1,578.6 273.4,578.9 275.7,579.2 277.9,579.5 280.1,579.8 282.1,580.1 284.1,580.5 286.0,580.8 287.9,581.2 289.6,581.5 291.2,581.9 292.7,582.3 294.1,582.6 295.4,583.0 296.6,583.4 297.7,583.7 298.6,584.1 299.4,584.4 300.1,584.8 300.7,585.1 301.2,585.5 301.5,585.8 301.7,586.1 301.8,586.3 301.7,586.6 301.5,587.0 301.2,587.4 300.8,587.8 300.3,588.1 299.7,588.5 298.9,588.9 298.1,589.3 297.1,589.7 296.1,590.0 294.9,590.4 293.6,590.8 292.2,591.1 290.8,591.5 289.2,591.8 287.5,592.2 285.8,592.5 283.9,592.8 282.0,593.1 280.0,593.4 277.9,593.7 275.8,594.0 273.6,594.2 271.3,594.5 268.9,594.7 266.5,595.0 264.1,595.2 261.6,595.4 259.1,595.6 256.5,595.7 253.9,595.9 251.3,596.0 248.6,596.1 246.0,596.3 243.3,596.3 240.7,596.4 238.1,596.5 235.5,596.5 233.0,596.5 230.6,596.5 228.2,596.5 225.7,596.5 223.1,596.5 220.5,596.4 217.9,596.3 215.2,596.3 212.6,596.1 209.9,596.0 207.3,595.9 204.7,595.7 202.1,595.6 199.6,595.4 197.1,595.2 194.7,595.0 192.3,594.7 189.9,594.5 187.6,594.2 185.4,594.0 183.3,593.7 181.2,593.4 179.2,593.1 177.3,592.8 175.4,592.5 173.7,592.2 172.0,591.8 170.4,591.5 169.0,591.1 167.6,590.8 166.3,590.4 165.1,590.0 164.1,589.7 163.1,589.3 162.3,588.9 161.5,588.5 160.9,588.1 160.4,587.8 160.0,587.4 159.7,587.0 159.5,586.6Z" stroke-width="4.3"/>
<path d="M425.6,585.8 425.7,585.4 425.9,585.0 426.2,584.6 426.6,584.2 427.2,583.8 427.9,583.4 428.7,583.0 429.6,582.6 430.7,582.3 431.8,581.9 433.1,581.5 434.5,581.2 436.0,580.8 437.7,580.5 439.4,580.1 441.2,579.8 443.2,579.5 445.2,579.2 447.4,578.9 449.6,578.6 451.9,578.3 454.3,578.0 456.8,577.8 459.4,577.5 462.0,577.3 464.7,577.1 467.5,576.9 470.3,576.7 473.2,576.5 476.2,576.4 479.2,576.2 482.2,576.1 485.3,576.0 488.4,575.9 491.5,575.8 494.7,575.7 497.9,575.7 501.1,575.6 504.3,575.6 507.5,575.6 509.7,575.6 512.3,575.6 515.1,575.7 517.9,575.7 520.8,575.8 523.8,575.9 526.7,576.0 529.7,576.2 532.7,576.3 535.7,576.5 538.6,576.6 541.6,576.8 544.5,577.0 547.3,577.3 550.1,577.5 552.9,577.7 555.6,578.0 558.2,578.3 560.8,578.6 563.2,578.9 565.6,579.2 567.9,579.5 570.1,579.8 572.2,580.1 574.2,580.5 576.1,580.8 577.9,581.2 579.5,581.6 581.1,581.9 582.5,582.3 583.8,582.7 585.0,583.0 586.0,583.4 586.9,583.8 587.7,584.1 588.3,584.5 588.8,584.9 589.1,585.2 589.3,585.5 589.4,585.8 589.3,586.0 589.1,586.3 588.7,586.6 588.2,586.9 587.6,587.3 586.7,587.6 585.8,588.0 584.7,588.3 583.5,588.7 582.1,589.1 580.6,589.4 579.0,589.8 577.3,590.1 575.4,590.5 573.4,590.9 571.3,591.2 569.1,591.5 566.8,591.9 564.5,592.2 562.0,592.5 559.4,592.8 556.8,593.1 554.1,593.4 551.3,593.7 548.5,593.9 545.7,594.2 542.8,594.4 539.8,594.6 536.9,594.8 534.0,595.0 531.0,595.2 528.1,595.3 525.2,595.5 522.3,595.6 519.5,595.7 516.7,595.8 514.1,595.8 511.6,595.9 509.3,595.9 507.5,595.9 504.3,595.9 501.1,595.9 497.9,595.8 494.7,595.8 491.5,595.7 488.4,595.6 485.3,595.5 482.2,595.4 479.2,595.3 476.2,595.1 473.2,595.0 470.3,594.8 467.5,594.6 464.7,594.4 462.0,594.2 459.4,594.0 456.8,593.7 454.3,593.5 451.9,593.2 449.6,592.9 447.4,592.7 445.2,592.4 443.2,592.1 441.2,591.7 439.4,591.4 437.7,591.1 436.0,590.7 434.5,590.4 433.1,590.0 431.8,589.7 430.7,589.3 429.6,588.9 428.7,588.5 427.9,588.2 427.2,587.8 426.6,587.4 426.2,587.0 425.9,586.6 425.7,586.2Z" stroke-width="4.2"/>
</g>
<g id="marks2" fill="none" stroke="#ed383c" stroke-linejoin="round">
<path d="M151.4,106.8 151.5,105.9 151.7,105.1 151.9,104.2 152.3,103.4 152.8,102.5 153.4,101.7 154.0,100.8 154.8,100.0 155.7,99.2 156.7,98.4 157.8,97.6 159.0,96.8 160.3,96.1 161.6,95.3 163.1,94.6 164.6,93.9 166.3,93.2 168.0,92.5 169.8,91.9 171.7,91.2 173.6,90.6 175.7,90.1 177.8,89.5 179.9,89.0 182.1,88.5 184.4,88.0 186.8,87.6 189.2,87.2 191.6,86.8 194.1,86.5 196.6,86.2 199.2,85.9 201.8,85.6 204.4,85.4 207.0,85.2 209.7,85.1 212.4,85.0 215.1,84.9 217.8,84.8 220.5,84.8 223.2,84.8 225.9,84.9 228.6,85.0 231.3,85.1 234.0,85.2 236.6,85.4 239.2,85.6 241.8,85.9 244.4,86.2 246.9,86.5 249.4,86.8 251.8,87.2 254.2,87.6 256.6,88.0 258.9,88.5 261.1,89.0 263.2,89.5 265.3,90.1 267.4,90.6 269.3,91.2 271.2,91.9 273.0,92.5 274.7,93.2 276.4,93.9 277.9,94.6 279.4,95.3 280.7,96.1 282.0,96.8 283.2,97.6 284.3,98.4 285.3,99.2 286.2,100.0 287.0,100.8 287.6,101.7 288.2,102.5 288.7,103.4 289.1,104.2 289.3,105.1 289.5,105.9 289.6,106.8 289.5,107.9 289.4,108.9 289.1,109.8 288.8,110.7 288.3,111.6 287.8,112.5 287.1,113.3 286.4,114.2 285.6,115.0 284.6,115.8 283.6,116.6 282.5,117.4 281.3,118.1 280.0,118.8 278.7,119.5 277.2,120.2 275.6,120.9 274.0,121.5 272.3,122.1 270.5,122.7 268.7,123.3 266.7,123.9 264.7,124.4 262.6,124.9 260.5,125.3 258.3,125.8 256.0,126.2 253.6,126.6 251.2,126.9 248.8,127.2 246.2,127.5 243.7,127.8 241.0,128.0 238.3,128.2 235.6,128.4 232.8,128.5 229.9,128.7 227.0,128.7 223.9,128.8 220.5,128.8 217.1,128.8 214.0,128.7 211.1,128.7 208.2,128.5 205.4,128.4 202.7,128.2 200.0,128.0 197.3,127.8 194.8,127.5 192.2,127.2 189.8,126.9 187.4,126.6 185.0,126.2 182.7,125.8 180.5,125.3 178.4,124.9 176.3,124.4 174.3,123.9 172.3,123.3 170.5,122.7 168.7,122.1 167.0,121.5 165.4,120.9 163.8,120.2 162.3,119.5 161.0,118.8 159.7,118.1 158.5,117.4 157.4,116.6 156.4,115.8 155.4,115.0 154.6,114.2 153.9,113.3 153.2,112.5 152.7,111.6 152.2,110.7 151.9,109.8 151.6,108.9 151.5,107.9Z" stroke-width="4.1"/>
<path d="M433.9,114.7 433.9,113.9 434.2,113.1 434.5,112.4 435.1,111.6 435.7,110.8 436.6,110.1 437.5,109.3 438.6,108.6 439.9,107.8 441.3,107.1 442.8,106.4 444.5,105.7 446.3,105.0 448.3,104.3 450.3,103.6 452.5,103.0 454.9,102.4 457.3,101.8 459.9,101.2 462.5,100.6 465.3,100.1 468.2,99.6 471.1,99.1 474.2,98.6 477.4,98.2 480.6,97.7 483.9,97.3 487.3,97.0 490.8,96.6 494.3,96.3 497.9,96.0 501.5,95.8 505.2,95.5 508.9,95.3 512.7,95.2 516.4,95.0 520.2,94.9 524.1,94.9 527.9,94.8 531.8,94.8 535.9,94.8 539.9,94.9 543.9,94.9 547.8,95.0 551.6,95.2 555.4,95.3 559.2,95.5 562.9,95.8 566.5,96.0 570.1,96.3 573.6,96.6 577.1,96.9 580.4,97.3 583.7,97.7 586.9,98.1 590.0,98.5 593.1,99.0 596.0,99.5 598.8,100.0 601.6,100.5 604.2,101.1 606.7,101.6 609.1,102.2 611.4,102.9 613.5,103.5 615.5,104.1 617.5,104.8 619.2,105.5 620.9,106.2 622.4,106.9 623.7,107.6 625.0,108.4 626.1,109.1 627.0,109.9 627.8,110.7 628.5,111.4 629.0,112.2 629.4,113.0 629.6,113.9 629.6,114.7 629.6,115.5 629.3,116.2 629.0,117.0 628.4,117.8 627.8,118.5 626.9,119.3 626.0,120.0 624.9,120.7 623.6,121.5 622.2,122.2 620.7,122.9 619.0,123.6 617.2,124.3 615.2,124.9 613.2,125.6 611.0,126.2 608.6,126.8 606.2,127.4 603.6,128.0 601.0,128.5 598.2,129.1 595.3,129.6 592.4,130.1 589.3,130.5 586.1,131.0 582.9,131.4 579.6,131.8 576.2,132.1 572.7,132.5 569.2,132.8 565.6,133.0 562.0,133.3 558.3,133.5 554.6,133.7 550.8,133.9 547.1,134.0 543.3,134.1 539.4,134.2 535.6,134.2 531.8,134.2 527.9,134.2 524.1,134.2 520.2,134.1 516.4,134.0 512.7,133.9 508.9,133.7 505.2,133.5 501.5,133.3 497.9,133.0 494.3,132.8 490.8,132.5 487.3,132.1 483.9,131.8 480.6,131.4 477.4,131.0 474.2,130.5 471.1,130.1 468.2,129.6 465.3,129.1 462.5,128.5 459.9,128.0 457.3,127.4 454.9,126.8 452.5,126.2 450.3,125.6 448.3,124.9 446.3,124.3 444.5,123.6 442.8,122.9 441.3,122.2 439.9,121.5 438.6,120.7 437.5,120.0 436.6,119.3 435.7,118.5 435.1,117.8 434.5,117.0 434.2,116.2 433.9,115.5Z" stroke-width="4.3"/>
<path d="M159.4,586.3 159.5,586.0 159.7,585.6 160.0,585.2 160.4,584.8 160.9,584.5 161.5,584.1 162.3,583.7 163.1,583.3 164.1,582.9 165.1,582.6 166.3,582.2 167.6,581.8 169.0,581.5 170.4,581.1 172.0,580.8 173.7,580.4 175.4,580.1 177.3,579.8 179.2,579.5 181.2,579.2 183.3,578.9 185.4,578.6 187.6,578.4 189.9,578.1 192.3,577.9 194.7,577.6 197.1,577.4 199.6,577.2 202.1,577.0 204.7,576.9 207.3,576.7 209.9,576.6 212.6,576.5 215.2,576.3 217.9,576.3 220.5,576.2 223.1,576.1 225.7,576.1 228.2,576.1 230.6,576.0 232.2,576.1 234.2,576.1 236.3,576.1 238.6,576.2 241.0,576.3 243.4,576.4 245.9,576.5 248.5,576.6 251.0,576.8 253.6,577.0 256.1,577.1 258.7,577.4 261.2,577.6 263.8,577.8 266.2,578.1 268.7,578.3 271.1,578.6 273.4,578.9 275.7,579.2 277.9,579.5 280.1,579.8 282.1,580.1 284.1,580.5 286.0,580.8 287.9,581.2 289.6,581.5 291.2,581.9 292.7,582.3 294.1,582.6 295.4,583.0 296.6,583.4 297.7,583.7 298.6,584.1 299.4,584.4 300.1,584.8 300.7,585.1 301.2,585.5 301.5,585.8 301.7,586.1 301.8,586.3 301.7,586.6 301.5,587.0 301.2,587.4 300.8,587.8 300.3,588.1 299.7,588.5 298.9,588.9 298.1,589.3 297.1,589.7 296.1,590.0 294.9,590.4 293.6,590.8 292.2,591.1 290.8,591.5 289.2,591.8 287.5,592.2 285.8,592.5 283.9,592.8 282.0,593.1 280.0,593.4 277.9,593.7 275.8,594.0 273.6,594.2 271.3,594.5 268.9,594.7 266.5,595.0 264.1,595.2 261.6,595.4 259.1,595.6 256.5,595.7 253.9,595.9 251.3,596.0 248.6,596.1 246.0,596.3 243.3,596.3 240.7,596.4 238.1,596.5 235.5,596.5 233.0,596.5 230.6,596.5 228.2,596.5 225.7,596.5 223.1,596.5 220.5,596.4 217.9,596.3 215.2,596.3 212.6,596.1 209.9,596.0 207.3,595.9 204.7,595.7 202.1,595.6 199.6,595.4 197.1,595.2 194.7,595.0 192.3,594.7 189.9,594.5 187.6,594.2 185.4,594.0 183.3,593.7 181.2,593.4 179.2,593.1 177.3,592.8 175.4,592.5 173.7,592.2 172.0,591.8 170.4,591.5 169.0,591.1 167.6,590.8 166.3,590.4 165.1,590.0 164.1,589.7 163.1,589.3 162.3,588.9 161.5,588.5 160.9,588.1 160.4,587.8 160.0,587.4 159.7,587.0 159.5,586.6Z" stroke-width="4.3"/>
<path d="M425.6,585.8 425.7,585.4 425.9,585.0 426.2,584.6 426.6,584.2 427.2,583.8 427.9,583.4 428.7,583.0 429.6,582.6 430.7,582.3 431.8,581.9 433.1,581.5 434.5,581.2 436.0,580.8 437.7,580.5 439.4,580.1 441.2,579.8 443.2,579.5 445.2,579.2 447.4,578.9 449.6,578.6 451.9,578.3 454.3,578.0 456.8,577.8 459.4,577.5 462.0,577.3 464.7,577.1 467.5,576.9 470.3,576.7 473.2,576.5 476.2,576.4 479.2,576.2 482.2,576.1 485.3,576.0 488.4,575.9 491.5,575.8 494.7,575.7 497.9,575.7 501.1,575.6 504.3,575.6 507.5,575.6 509.7,575.6 512.3,575.6 515.1,575.7 517.9,575.7 520.8,575.8 523.8,575.9 526.7,576.0 529.7,576.2 532.7,576.3 535.7,576.5 538.6,576.6 541.6,576.8 544.5,577.0 547.3,577.3 550.1,577.5 552.9,577.7 555.6,578.0 558.2,578.3 560.8,578.6 563.2,578.9 565.6,579.2 567.9,579.5 570.1,579.8 572.2,580.1 574.2,580.5 576.1,580.8 577.9,581.2 579.5,581.6 581.1,581.9 582.5,582.3 583.8,582.7 585.0,583.0 586.0,583.4 586.9,583.8 587.7,584.1 588.3,584.5 588.8,584.9 589.1,585.2 589.3,585.5 589.4,585.8 589.3,586.0 589.1,586.3 588.7,586.6 588.2,586.9 587.6,587.3 586.7,587.6 585.8,588.0 584.7,588.3 583.5,588.7 582.1,589.1 580.6,589.4 579.0,589.8 577.3,590.1 575.4,590.5 573.4,590.9 571.3,591.2 569.1,591.5 566.8,591.9 564.5,592.2 562.0,592.5 559.4,592.8 556.8,593.1 554.1,593.4 551.3,593.7 548.5,593.9 545.7,594.2 542.8,594.4 539.8,594.6 536.9,594.8 534.0,595.0 531.0,595.2 528.1,595.3 525.2,595.5 522.3,595.6 519.5,595.7 516.7,595.8 514.1,595.8 511.6,595.9 509.3,595.9 507.5,595.9 504.3,595.9 501.1,595.9 497.9,595.8 494.7,595.8 491.5,595.7 488.4,595.6 485.3,595.5 482.2,595.4 479.2,595.3 476.2,595.1 473.2,595.0 470.3,594.8 467.5,594.6 464.7,594.4 462.0,594.2 459.4,594.0 456.8,593.7 454.3,593.5 451.9,593.2 449.6,592.9 447.4,592.7 445.2,592.4 443.2,592.1 441.2,591.7 439.4,591.4 437.7,591.1 436.0,590.7 434.5,590.4 433.1,590.0 431.8,589.7 430.7,589.3 429.6,588.9 428.7,588.5 427.9,588.2 427.2,587.8 426.6,587.4 426.2,587.0 425.9,586.6 425.7,586.2Z" stroke-width="4.2"/>
</g>

<rect x="35" y="798.0" width="584.1" height="1.3" fill="#333"/>
<text x="543.6" y="833.6" font-family="Liberation Mono, monospace" font-size="27.5" font-weight="bold" fill="#0a0a0a" stroke="#0a0a0a" stroke-width="1.5" textLength="75" lengthAdjust="spacingAndGlyphs">ИЗВЕСТИЯ</text>
</svg>
</body>
</html>
